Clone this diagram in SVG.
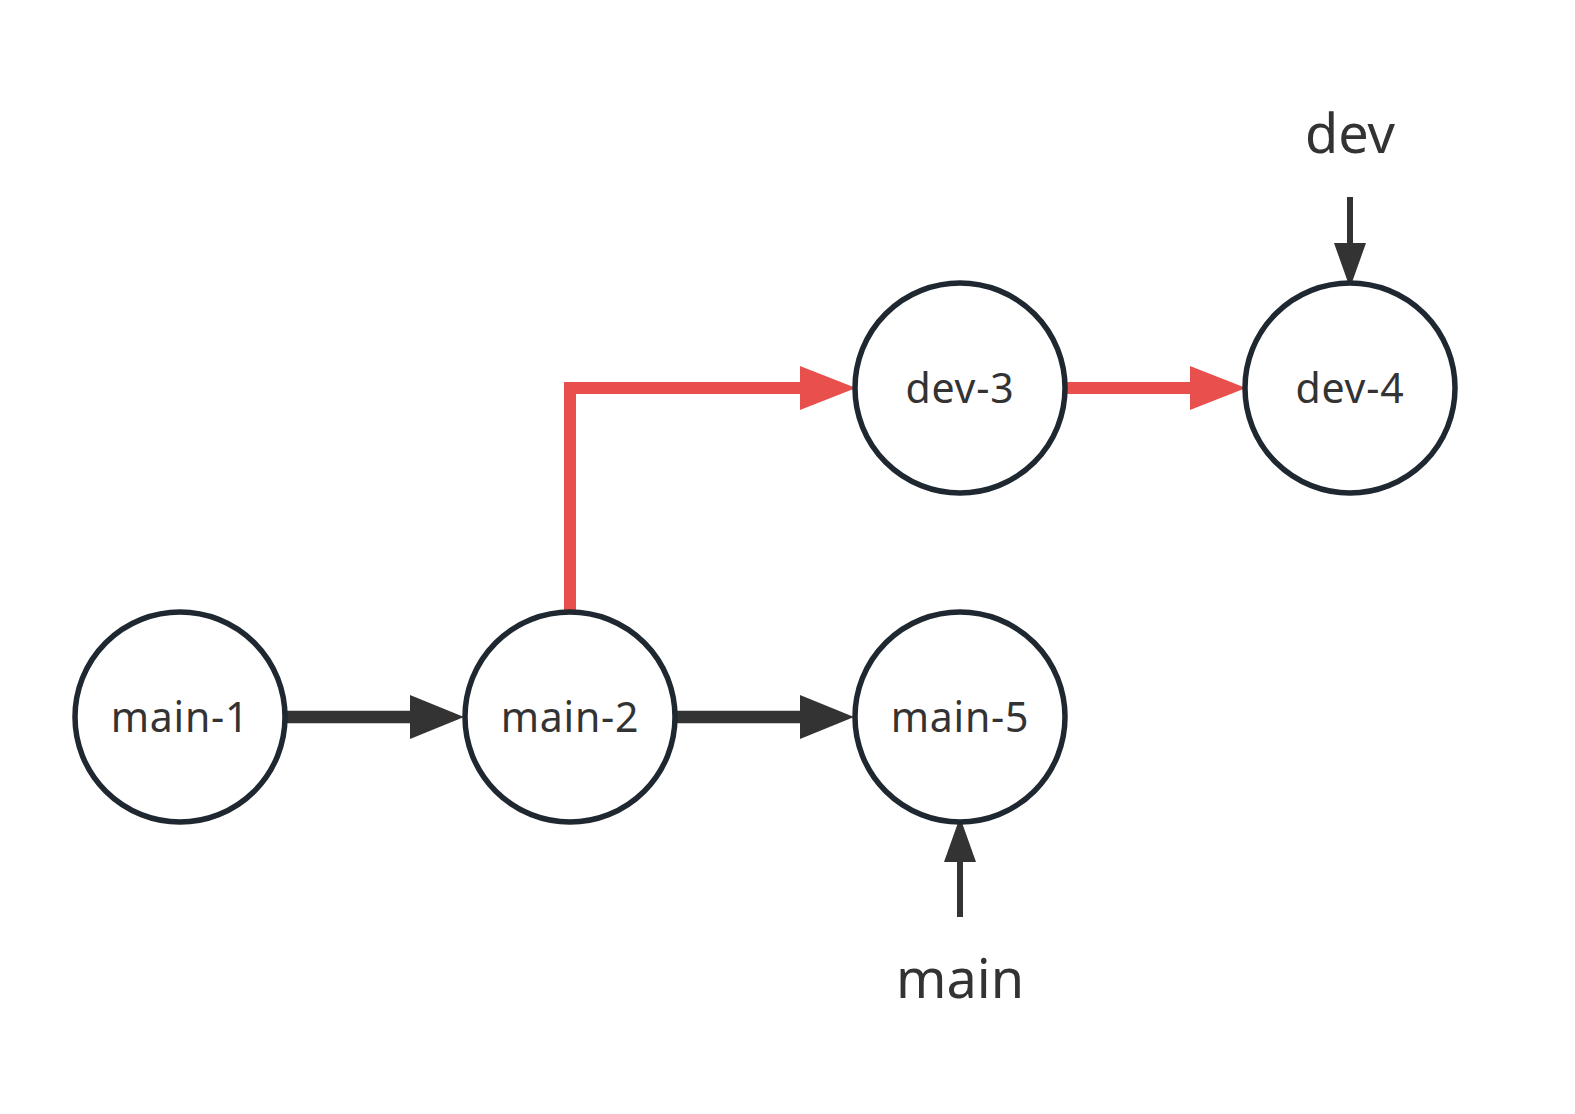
<svg xmlns="http://www.w3.org/2000/svg" width="1575" height="1114" viewBox="0 0 1575 1114">
<style>
.node{fill:#ffffff;stroke:#1f2830;stroke-width:5.5}
.lbl{font-family:"Noto Sans","Open Sans","Liberation Sans",sans-serif;font-size:41px;letter-spacing:0.8px;fill:#333333;text-anchor:middle}
.ref{font-family:"Noto Sans","Open Sans","Liberation Sans",sans-serif;font-size:54px;fill:#333333;text-anchor:middle}
.blk{stroke:#333333;stroke-width:12.5;fill:none}
.red{stroke:#E8504E;stroke-width:12;fill:none;stroke-linejoin:miter}
.ptr{stroke:#333333;stroke-width:6;fill:none}
</style>
<defs>
<marker id="ahB" markerUnits="userSpaceOnUse" markerWidth="56" markerHeight="46" refX="0" refY="22" orient="auto" overflow="visible"><path d="M0,0 L54,22 L0,44 Z" fill="#333333"/></marker>
<marker id="ahR" markerUnits="userSpaceOnUse" markerWidth="58" markerHeight="46" refX="0" refY="22" orient="auto" overflow="visible"><path d="M0,0 L56,22 L0,44 Z" fill="#E8504E"/></marker>
<marker id="ahP" markerUnits="userSpaceOnUse" markerWidth="48" markerHeight="34" refX="0" refY="16" orient="auto" overflow="visible"><path d="M0,0 L45,16 L0,32 Z" fill="#333333"/></marker>
</defs>
<rect width="1575" height="1114" fill="#ffffff"/>
<g id="connectors">
<line class="blk" x1="287" y1="717" x2="410" y2="717" marker-end="url(#ahB)"/>
<line class="blk" x1="677" y1="717" x2="800" y2="717" marker-end="url(#ahB)"/>
<polyline class="red" points="570,610 570,388 800,388" marker-end="url(#ahR)"/>
<line class="red" x1="1067" y1="388" x2="1190" y2="388" marker-end="url(#ahR)"/>
<line class="ptr" x1="1350" y1="197" x2="1350" y2="243" marker-end="url(#ahP)"/>
<line class="ptr" x1="960" y1="917" x2="960" y2="862" marker-end="url(#ahP)"/>
</g>
<g id="main-1"><circle class="node" cx="180" cy="717" r="105"/><text class="lbl" x="180" y="732">main-1</text></g>
<g id="main-2"><circle class="node" cx="570" cy="717" r="105"/><text class="lbl" x="570" y="732">main-2</text></g>
<g id="main-5"><circle class="node" cx="960" cy="717" r="105"/><text class="lbl" x="960" y="732">main-5</text></g>
<g id="dev-3"><circle class="node" cx="960" cy="388" r="105"/><text class="lbl" x="960" y="403">dev-3</text></g>
<g id="dev-4"><circle class="node" cx="1350" cy="388" r="105"/><text class="lbl" x="1350" y="403">dev-4</text></g>
<g id="label-dev"><text class="ref" x="1350" y="153">dev</text></g>
<g id="label-main"><text class="ref" x="960" y="998">main</text></g>
</svg>
